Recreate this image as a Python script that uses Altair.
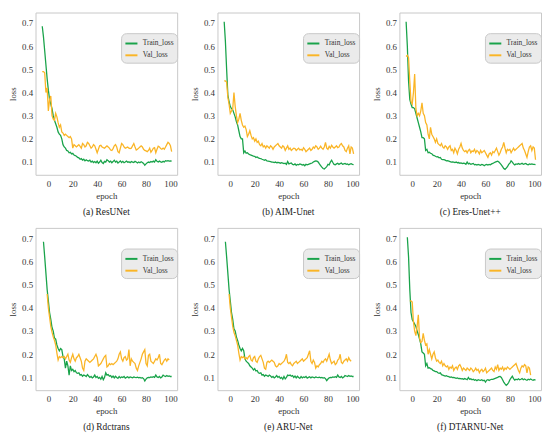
import altair as alt
import pandas as pd

SERIES = ["Train_loss", "Val_loss"]
COLORS = ["#19a34a", "#fab526"]
X_TICKS = [0, 20, 40, 60, 80, 100]
Y_TICKS = [0.1, 0.2, 0.3, 0.4, 0.5, 0.6, 0.7]
CAPTIONS = ["(a) ResUNet", "(b) AIM-Unet", "(c) Eres-Unet++",
            "(d) Rdctrans", "(e) ARU-Net", "(f) DTARNU-Net"]

# ---- (a) ResUNet : train from epoch -5, val from epoch -5
a_train_start = -5
a_train = [0.686, 0.64, 0.58, 0.52, 0.46, 0.41, 0.37, 0.35, 0.33, 0.30,
           0.28, 0.265, 0.25, 0.23, 0.22, 0.215, 0.20, 0.175, 0.165, 0.16,
           0.15, 0.148, 0.14, 0.142, 0.135, 0.138, 0.13, 0.128, 0.125, 0.12,
           0.118, 0.112, 0.115, 0.108, 0.112, 0.105, 0.11, 0.106, 0.104, 0.108,
           0.10, 0.104, 0.098, 0.102, 0.097, 0.104, 0.095, 0.10, 0.108, 0.098,
           0.094, 0.103, 0.10, 0.11, 0.106, 0.10, 0.104, 0.097, 0.102, 0.108,
           0.10, 0.104, 0.096, 0.10, 0.105, 0.098, 0.103, 0.097, 0.10, 0.104,
           0.099, 0.101, 0.097, 0.102, 0.10, 0.098, 0.103, 0.10, 0.096, 0.10,
           0.097, 0.101, 0.098, 0.094, 0.086, 0.092, 0.097, 0.10, 0.098, 0.102,
           0.10, 0.104, 0.10, 0.11, 0.103, 0.10, 0.104, 0.101, 0.099, 0.103,
           0.10, 0.106, 0.104, 0.106, 0.104, 0.105, 0.104]
a_val_start = -5
a_val = [0.49, 0.49, 0.485, 0.40, 0.42, 0.32, 0.37, 0.385, 0.30, 0.285,
         0.28, 0.31, 0.295, 0.27, 0.25, 0.26, 0.23, 0.225, 0.215, 0.22,
         0.215, 0.21, 0.205, 0.21, 0.20, 0.16, 0.175, 0.17, 0.165, 0.17,
         0.175, 0.168, 0.16, 0.18, 0.175, 0.165, 0.17, 0.185, 0.18, 0.17,
         0.16, 0.165, 0.175, 0.17, 0.155, 0.14, 0.155, 0.17, 0.172, 0.165,
         0.162, 0.16, 0.165, 0.17, 0.165, 0.16, 0.152, 0.15, 0.158, 0.17,
         0.175, 0.165, 0.145, 0.14, 0.16, 0.18, 0.175, 0.165, 0.16, 0.162,
         0.165, 0.16, 0.158, 0.16, 0.17, 0.18, 0.165, 0.152, 0.155, 0.16,
         0.165, 0.17, 0.165, 0.155, 0.15, 0.148, 0.145, 0.15, 0.16, 0.142,
         0.15, 0.16, 0.162, 0.14, 0.155, 0.168, 0.165, 0.158, 0.155, 0.16,
         0.155, 0.165, 0.175, 0.185, 0.18, 0.17, 0.145]

# ---- (b) AIM-Unet
b_train_start = -5
b_train = [0.705, 0.62, 0.50, 0.39, 0.36, 0.34, 0.33, 0.325, 0.31, 0.295,
           0.275, 0.26, 0.235, 0.21, 0.20, 0.20, 0.14, 0.148, 0.138, 0.14,
           0.135, 0.132, 0.13, 0.128, 0.126, 0.125, 0.12, 0.122, 0.118, 0.116,
           0.115, 0.112, 0.11, 0.108, 0.11, 0.105, 0.104, 0.103, 0.102, 0.10,
           0.10, 0.098, 0.10, 0.097, 0.098, 0.097, 0.095, 0.097, 0.095, 0.093,
           0.095, 0.09, 0.102, 0.092, 0.094, 0.096, 0.09, 0.088, 0.092, 0.086,
           0.09, 0.088, 0.092, 0.09, 0.087, 0.089, 0.084, 0.09, 0.088, 0.09,
           0.092, 0.094, 0.096, 0.10, 0.103, 0.105, 0.104, 0.10, 0.092, 0.085,
           0.078, 0.072, 0.07, 0.075, 0.08, 0.09, 0.088, 0.10, 0.108, 0.098,
           0.09, 0.088, 0.092, 0.095, 0.09, 0.093, 0.096, 0.09, 0.092, 0.094,
           0.09, 0.092, 0.088, 0.091, 0.093, 0.09, 0.089]
b_val_start = -5
b_val = [0.45, 0.45, 0.445, 0.38, 0.35, 0.31, 0.32, 0.33, 0.40, 0.34,
         0.30, 0.27, 0.285, 0.31, 0.28, 0.26, 0.25, 0.255, 0.24, 0.21,
         0.22, 0.235, 0.215, 0.20, 0.205, 0.19, 0.20, 0.185, 0.19, 0.175,
         0.17, 0.18, 0.165, 0.17, 0.16, 0.17, 0.165, 0.16, 0.17, 0.165,
         0.155, 0.165, 0.17, 0.175, 0.18, 0.17, 0.165, 0.16, 0.17, 0.165,
         0.15, 0.16, 0.17, 0.155, 0.16, 0.15, 0.155, 0.16, 0.158, 0.15,
         0.155, 0.16, 0.152, 0.155, 0.15, 0.162, 0.155, 0.145, 0.15, 0.155,
         0.16, 0.15, 0.155, 0.165, 0.16, 0.17, 0.165, 0.155, 0.16, 0.168,
         0.16, 0.155, 0.165, 0.185, 0.16, 0.155, 0.168, 0.16, 0.172, 0.165,
         0.16, 0.165, 0.17, 0.162, 0.165, 0.175, 0.18, 0.17, 0.165, 0.15,
         0.145, 0.16, 0.17, 0.135, 0.165, 0.16, 0.135]

# ---- (c) Eres-Unet++
c_train_start = -5
c_train = [0.705, 0.60, 0.45, 0.37, 0.35, 0.335, 0.335, 0.33, 0.31, 0.29,
           0.27, 0.25, 0.23, 0.205, 0.205, 0.20, 0.15, 0.155, 0.14, 0.142,
           0.138, 0.136, 0.13, 0.128, 0.125, 0.122, 0.123, 0.118, 0.12, 0.112,
           0.11, 0.11, 0.108, 0.105, 0.106, 0.104, 0.102, 0.10, 0.101, 0.10,
           0.098, 0.10, 0.097, 0.098, 0.095, 0.096, 0.093, 0.095, 0.094, 0.09,
           0.10, 0.092, 0.095, 0.09, 0.092, 0.094, 0.088, 0.09, 0.087, 0.09,
           0.088, 0.086, 0.09, 0.088, 0.084, 0.088, 0.09, 0.087, 0.09, 0.088,
           0.092, 0.094, 0.097, 0.10, 0.102, 0.104, 0.10, 0.094, 0.088, 0.08,
           0.072, 0.068, 0.074, 0.08, 0.09, 0.095, 0.105, 0.10, 0.092, 0.088,
           0.092, 0.09, 0.094, 0.09, 0.092, 0.095, 0.09, 0.092, 0.094, 0.09,
           0.088, 0.092, 0.09, 0.092, 0.09, 0.09, 0.089]
c_val_start = -5
c_val = [0.555, 0.56, 0.55, 0.45, 0.36, 0.35, 0.40, 0.48, 0.33, 0.30,
         0.31, 0.30, 0.32, 0.355, 0.31, 0.30, 0.27, 0.26, 0.22, 0.20,
         0.25, 0.22, 0.21, 0.20, 0.185, 0.20, 0.18, 0.175, 0.17, 0.18,
         0.165, 0.16, 0.17, 0.165, 0.155, 0.165, 0.17, 0.15, 0.155, 0.14,
         0.16, 0.15, 0.135, 0.155, 0.165, 0.18, 0.16, 0.15, 0.145, 0.15,
         0.14, 0.15, 0.155, 0.14, 0.148, 0.145, 0.155, 0.14, 0.15, 0.145,
         0.135, 0.15, 0.14, 0.145, 0.15, 0.14, 0.13, 0.12, 0.135, 0.14,
         0.13, 0.145, 0.14, 0.15, 0.16, 0.145, 0.13, 0.14, 0.155, 0.165,
         0.185, 0.16, 0.14, 0.155, 0.15, 0.155, 0.14, 0.15, 0.16, 0.15,
         0.155, 0.16, 0.165, 0.17, 0.175, 0.18, 0.16, 0.15, 0.135, 0.12,
         0.145, 0.165, 0.17, 0.15, 0.165, 0.16, 0.11]

# ---- (d) Rdctrans
d_train_start = -4
d_train = [0.685, 0.62, 0.55, 0.48, 0.43, 0.38, 0.35, 0.315, 0.30, 0.27,
           0.265, 0.24, 0.225, 0.215, 0.225, 0.22, 0.19, 0.18, 0.14, 0.17,
           0.15, 0.11, 0.15, 0.13, 0.135, 0.125, 0.13, 0.12, 0.118, 0.12,
           0.11, 0.112, 0.105, 0.11, 0.108, 0.104, 0.112, 0.106, 0.10, 0.104,
           0.098, 0.102, 0.11, 0.10, 0.104, 0.096, 0.10, 0.092, 0.104, 0.09,
           0.10, 0.12, 0.11, 0.112, 0.105, 0.108, 0.10, 0.106, 0.098, 0.105,
           0.10, 0.096, 0.104, 0.098, 0.102, 0.10, 0.104, 0.097, 0.10, 0.103,
           0.098, 0.102, 0.10, 0.098, 0.102, 0.10, 0.099, 0.101, 0.098, 0.10,
           0.097, 0.099, 0.095, 0.085, 0.093, 0.098, 0.10, 0.099, 0.102, 0.10,
           0.103, 0.10, 0.11, 0.102, 0.10, 0.104, 0.098, 0.102, 0.11, 0.106,
           0.104, 0.108, 0.105, 0.106, 0.104, 0.104]
d_val_start = -1
d_val = [0.46, 0.40, 0.36, 0.32, 0.295, 0.275, 0.26, 0.24, 0.205, 0.175,
         0.19, 0.185, 0.19, 0.185, 0.19, 0.18, 0.19, 0.20, 0.175, 0.165,
         0.185, 0.20, 0.18, 0.17, 0.185, 0.19, 0.20, 0.185, 0.17, 0.14,
         0.13, 0.17, 0.18, 0.175, 0.17, 0.165, 0.17, 0.175, 0.18, 0.19,
         0.20, 0.185, 0.15, 0.155, 0.16, 0.17, 0.18, 0.19, 0.195, 0.145,
         0.15, 0.16, 0.155, 0.16, 0.155, 0.16, 0.165, 0.17, 0.18, 0.20,
         0.21, 0.18, 0.17, 0.185, 0.19, 0.175, 0.18, 0.22, 0.15, 0.18,
         0.17, 0.165, 0.16, 0.14, 0.13, 0.15, 0.165, 0.18, 0.20, 0.21,
         0.22, 0.16, 0.15, 0.195, 0.20, 0.17, 0.165, 0.16, 0.17, 0.18,
         0.175, 0.185, 0.20, 0.16, 0.155, 0.165, 0.175, 0.18, 0.17, 0.18,
         0.175]

# ---- (e) ARU-Net
e_train_start = -4
e_train = [0.685, 0.62, 0.55, 0.48, 0.43, 0.38, 0.35, 0.31, 0.30, 0.275,
           0.26, 0.24, 0.225, 0.215, 0.225, 0.215, 0.18, 0.17, 0.165, 0.16,
           0.15, 0.145, 0.14, 0.132, 0.138, 0.128, 0.13, 0.12, 0.118, 0.12,
           0.11, 0.112, 0.105, 0.11, 0.108, 0.104, 0.11, 0.106, 0.10, 0.104,
           0.098, 0.102, 0.108, 0.10, 0.104, 0.096, 0.10, 0.092, 0.104, 0.094,
           0.10, 0.11, 0.108, 0.11, 0.105, 0.108, 0.10, 0.106, 0.098, 0.105,
           0.10, 0.096, 0.104, 0.098, 0.102, 0.10, 0.104, 0.097, 0.10, 0.103,
           0.098, 0.102, 0.10, 0.098, 0.102, 0.10, 0.099, 0.101, 0.098, 0.10,
           0.097, 0.099, 0.095, 0.086, 0.093, 0.098, 0.10, 0.099, 0.102, 0.10,
           0.103, 0.10, 0.11, 0.102, 0.10, 0.104, 0.098, 0.102, 0.108, 0.106,
           0.104, 0.108, 0.105, 0.106, 0.104, 0.104]
e_val_start = -1
e_val = [0.46, 0.40, 0.36, 0.32, 0.295, 0.28, 0.26, 0.24, 0.205, 0.175,
         0.19, 0.185, 0.19, 0.18, 0.185, 0.18, 0.19, 0.195, 0.175, 0.17,
         0.185, 0.19, 0.17, 0.165, 0.18, 0.19, 0.195, 0.18, 0.165, 0.14,
         0.135, 0.165, 0.17, 0.165, 0.17, 0.175, 0.17, 0.165, 0.15, 0.145,
         0.15, 0.16, 0.155, 0.16, 0.165, 0.17, 0.18, 0.20, 0.165, 0.16,
         0.165, 0.155, 0.15, 0.16, 0.165, 0.17, 0.16, 0.165, 0.17, 0.175,
         0.18, 0.17, 0.175, 0.18, 0.185, 0.20, 0.215, 0.17, 0.16, 0.175,
         0.165, 0.14, 0.15, 0.145, 0.155, 0.16, 0.17, 0.165, 0.175, 0.18,
         0.17, 0.185, 0.20, 0.175, 0.16, 0.165, 0.17, 0.155, 0.16, 0.175,
         0.18, 0.20, 0.165, 0.16, 0.17, 0.175, 0.18, 0.17, 0.185, 0.175,
         0.17]

# ---- (f) DTARNU-Net
f_train_start = -4
f_train = [0.705, 0.62, 0.48, 0.38, 0.35, 0.34, 0.33, 0.32, 0.30, 0.285,
           0.265, 0.245, 0.21, 0.205, 0.20, 0.15, 0.16, 0.14, 0.142, 0.138,
           0.136, 0.13, 0.128, 0.125, 0.125, 0.12, 0.118, 0.12, 0.112, 0.11,
           0.108, 0.106, 0.107, 0.104, 0.103, 0.10, 0.102, 0.099, 0.10, 0.098,
           0.096, 0.098, 0.095, 0.096, 0.094, 0.095, 0.092, 0.095, 0.093, 0.09,
           0.10, 0.092, 0.094, 0.09, 0.092, 0.088, 0.09, 0.086, 0.09, 0.088,
           0.087, 0.09, 0.086, 0.088, 0.08, 0.088, 0.09, 0.087, 0.09, 0.092,
           0.092, 0.094, 0.096, 0.098, 0.10, 0.103, 0.104, 0.10, 0.09, 0.08,
           0.072, 0.066, 0.07, 0.078, 0.09, 0.098, 0.105, 0.095, 0.088, 0.092,
           0.09, 0.094, 0.09, 0.092, 0.095, 0.09, 0.093, 0.09, 0.088, 0.092,
           0.09, 0.093, 0.09, 0.088, 0.09, 0.088]
f_val_start = -2
f_val = [0.43, 0.43, 0.425, 0.34, 0.30, 0.28, 0.32, 0.37, 0.27, 0.25,
         0.255, 0.29, 0.26, 0.24, 0.245, 0.20, 0.22, 0.20, 0.18, 0.20,
         0.21, 0.185, 0.17, 0.175, 0.165, 0.16, 0.17, 0.15, 0.16, 0.15,
         0.145, 0.15, 0.135, 0.145, 0.14, 0.15, 0.13, 0.14, 0.145, 0.135,
         0.15, 0.155, 0.145, 0.13, 0.14, 0.135, 0.13, 0.14, 0.135, 0.13,
         0.14, 0.135, 0.125, 0.13, 0.14, 0.13, 0.135, 0.12, 0.13, 0.135,
         0.125, 0.13, 0.14, 0.12, 0.125, 0.13, 0.135, 0.14, 0.13, 0.125,
         0.145, 0.135, 0.155, 0.13, 0.14, 0.135, 0.145, 0.13, 0.14, 0.135,
         0.145, 0.14, 0.135, 0.14, 0.145, 0.15, 0.155, 0.16, 0.145, 0.13,
         0.12, 0.14, 0.15, 0.145, 0.155, 0.15, 0.12, 0.145, 0.14, 0.11]

PANELS = [
    (CAPTIONS[0], a_train_start, a_train, a_val_start, a_val),
    (CAPTIONS[1], b_train_start, b_train, b_val_start, b_val),
    (CAPTIONS[2], c_train_start, c_train, c_val_start, c_val),
    (CAPTIONS[3], d_train_start, d_train, d_val_start, d_val),
    (CAPTIONS[4], e_train_start, e_train, e_val_start, e_val),
    (CAPTIONS[5], f_train_start, f_train, f_val_start, f_val),
]

FONT = "Liberation Serif"


def make_panel(caption, ts, tr, vs, va):
    df = pd.DataFrame({
        "epoch": list(range(ts, ts + len(tr))) + list(range(vs, vs + len(va))),
        "loss": tr + va,
        "series": [SERIES[0]] * len(tr) + [SERIES[1]] * len(va),
    })
    return alt.Chart(df).mark_line(strokeWidth=1.3, clip=True).encode(
        x=alt.X("epoch:Q",
                scale=alt.Scale(domain=[-10.5, 105.5], nice=False, zero=False),
                axis=alt.Axis(values=X_TICKS, title="epoch", labelPadding=5,
                              titlePadding=3)),
        y=alt.Y("loss:Q",
                scale=alt.Scale(domain=[0.045, 0.745], nice=False, zero=False),
                axis=alt.Axis(values=Y_TICKS, format=".1f", title="loss",
                              labelPadding=3, titlePadding=4)),
        color=alt.Color("series:N",
                        scale=alt.Scale(domain=SERIES, range=COLORS),
                        legend=alt.Legend(title=None, orient="none",
                                          legendX=87, legendY=21)),
    ).properties(
        width=144, height=165,
        title=alt.TitleParams(caption, orient="bottom", font=FONT, fontSize=9.5,
                              fontWeight="normal", color="#222222", offset=7,
                              frame="group"),
    )


chart = alt.concat(*[make_panel(*p) for p in PANELS], columns=3,
                   spacing={"row": 10, "column": 12}).resolve_scale(
    color="independent"
).properties(
    padding={"left": 0, "top": 0, "right": 0, "bottom": 0},
    background="white",
).configure_view(
    stroke="#c8c8c8", strokeWidth=1
).configure_axis(
    grid=False, domain=False, ticks=False,
    labelFont=FONT, labelFontSize=9, labelColor="#333333",
    titleFont=FONT, titleFontSize=9, titleFontWeight="normal",
    titleColor="#333333",
).configure_legend(
    fillColor="#ebebeb", strokeColor="#c8c8c8", cornerRadius=5, padding=3,
    symbolType="stroke", symbolStrokeWidth=2, symbolSize=150,
    labelFont=FONT, labelFontSize=7.5, labelColor="#333333", rowPadding=0,
    labelOffset=4,
)

chart.save("out.html", embed_options={"renderer": "svg", "actions": False})
